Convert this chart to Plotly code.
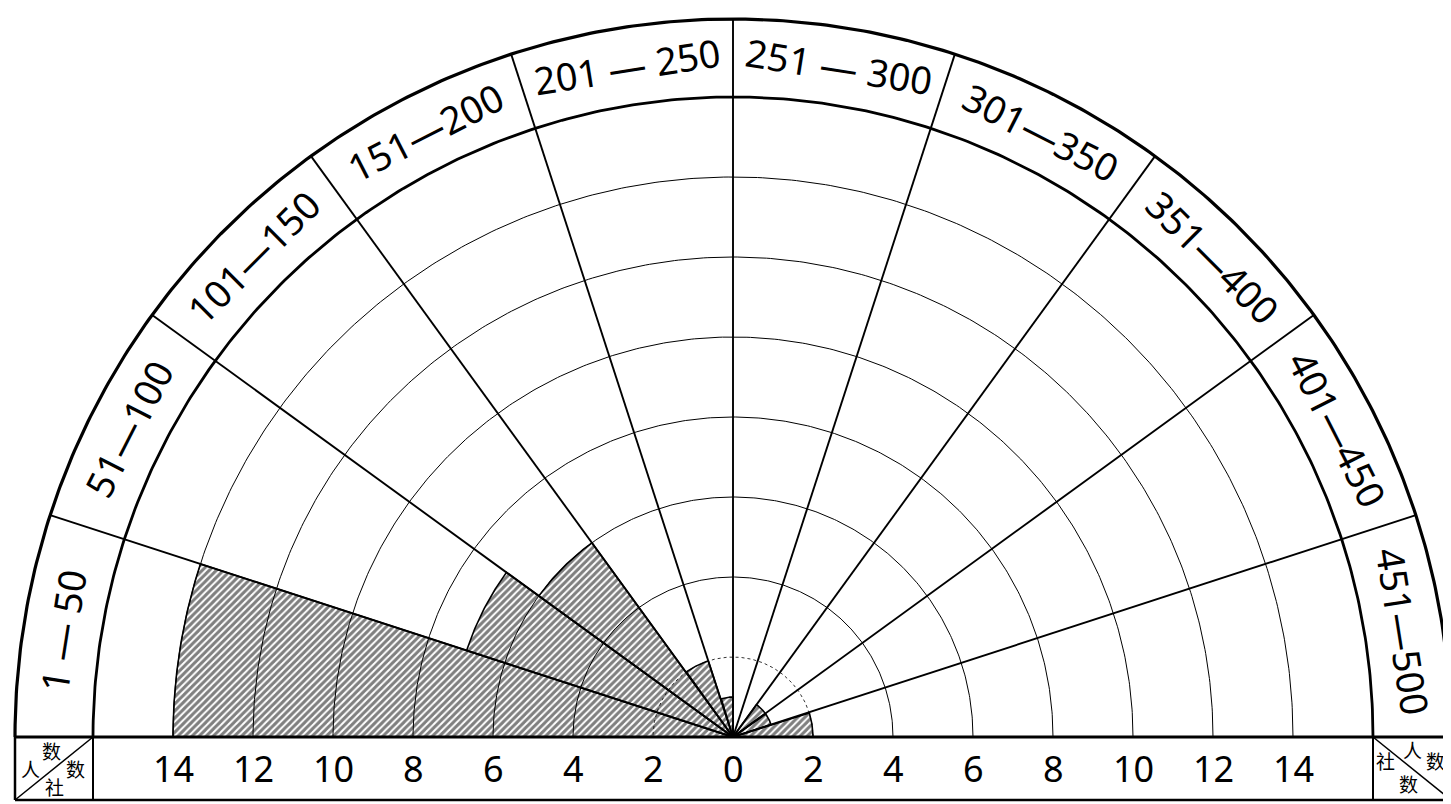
import numpy as np
import plotly.graph_objects as go

# employee-size classes (angular sectors, left to right) and number of companies
size_classes = ["1 — 50", "51—100", "101—150", "151—200", "201 — 250",
                "251 — 300", "301—350", "351—400", "401—450", "451—500"]
companies = [14, 7, 6, 2, 1, 0, 0, 1, 1, 2]

# radial scale labels along the bottom strip
tick_values = [-14, -12, -10, -8, -6, -4, -2, 0, 2, 4, 6, 8, 10, 12, 14]
tick_text = ["14", "12", "10", "8", "6", "4", "2", "0", "2", "4", "6", "8", "10", "12", "14"]
grid_radii = [2, 4, 6, 8, 10, 12, 14]

R_IN = 16.0     # inner edge of the label band
R_OUT = 17.95   # outer edge of the half circle
STRIP = -1.575  # bottom of the scale strip
n = len(size_classes)
step = 180.0 / n

# page body has an 8px margin, so the figure is a bit smaller than the window
W, H = 1443, 796
CX, CY, UNIT = 725, 729, 40.0   # centre of the half circle in figure pixels

fig = go.Figure()

# hatched sectors
for i, v in enumerate(companies):
    if v <= 0:
        continue
    a0 = 180 - step * i
    a1 = a0 - step
    t = np.radians(np.linspace(a0, a1, 40))
    xs = np.concatenate([[0], v * np.cos(t), [0]])
    ys = np.concatenate([[0], v * np.sin(t), [0]])
    fig.add_trace(go.Scatter(
        x=xs, y=ys, mode="lines", fill="toself",
        fillcolor="white",
        fillpattern=dict(shape="/", fgcolor="black", bgcolor="white",
                         size=5, solidity=0.6),
        line=dict(color="black", width=1.6),
        hoverinfo="skip"
    ))


def arc(r, width, dash="solid"):
    t = np.radians(np.linspace(0, 180, 361))
    fig.add_trace(go.Scatter(x=r * np.cos(t), y=r * np.sin(t), mode="lines",
                             line=dict(color="black", width=width, dash=dash),
                             hoverinfo="skip"))


# grid arcs
for r in grid_radii:
    arc(r, 1.0 if r > 2 else 0.8, "solid" if r > 2 else "dot")
arc(R_IN, 2.8)
arc(R_OUT, 3.2)

# sector lines
lx, ly = [], []
for k in range(1, n):
    a = np.radians(180 - step * k)
    lx += [0, R_OUT * np.cos(a), None]
    ly += [0, R_OUT * np.sin(a), None]
fig.add_trace(go.Scatter(x=lx, y=ly, mode="lines",
                         line=dict(color="black", width=1.9), hoverinfo="skip"))

# baseline and scale strip
shapes = [
    dict(type="line", x0=-R_OUT, x1=R_OUT, y0=0, y1=0, line=dict(color="black", width=3)),
    dict(type="line", x0=-R_OUT, x1=R_OUT, y0=STRIP, y1=STRIP, line=dict(color="black", width=2.5)),
    dict(type="line", x0=-R_OUT, x1=-R_OUT, y0=0, y1=STRIP, line=dict(color="black", width=2.5)),
    dict(type="line", x0=R_OUT - 0.05, x1=R_OUT - 0.05, y0=0, y1=STRIP, line=dict(color="black", width=2.5)),
    dict(type="line", x0=-R_IN, x1=-R_IN, y0=0, y1=STRIP, line=dict(color="black", width=2)),
    dict(type="line", x0=R_IN, x1=R_IN, y0=0, y1=STRIP, line=dict(color="black", width=2)),
    dict(type="line", x0=-R_OUT, x1=-R_IN, y0=STRIP, y1=0, line=dict(color="black", width=1.5)),
    dict(type="line", x0=R_IN, x1=R_OUT, y0=0, y1=STRIP, line=dict(color="black", width=1.5)),
]

annotations = []
# sector labels in the outer band, written along the arc
r_lab = (R_IN + R_OUT) / 2
for i, lab in enumerate(size_classes):
    a = 180 - step * (i + 0.5)
    annotations.append(dict(
        x=r_lab * np.cos(np.radians(a)), y=r_lab * np.sin(np.radians(a)),
        text=lab, showarrow=False, textangle=90 - a,
        font=dict(family="Noto Sans", size=38, color="black")
    ))

# scale numbers
for v, t in zip(tick_values, tick_text):
    annotations.append(dict(x=v, y=STRIP / 2, text=t, showarrow=False,
                            font=dict(family="Noto Sans", size=36, color="black")))


# corner boxes: 人数 / 社数
def corner(x0, x1, items):
    for ch, fx, fy in items:
        annotations.append(dict(x=x0 + (x1 - x0) * fx, y=STRIP * fy, text=ch,
                                showarrow=False,
                                font=dict(family="Noto Sans CJK SC", size=19, color="black")))


corner(-R_OUT, -R_IN, [("人", 0.2, 0.5), ("数", 0.47, 0.22), ("数", 0.78, 0.5), ("社", 0.5, 0.78)])
corner(R_IN, R_OUT, [("人", 0.5, 0.2), ("数", 0.8, 0.38), ("社", 0.16, 0.38), ("数", 0.45, 0.74)])

fig.update_layout(
    width=W, height=H,
    margin=dict(l=0, r=0, t=0, b=0),
    paper_bgcolor="white", plot_bgcolor="white",
    showlegend=False,
    xaxis=dict(range=[-CX / UNIT, (W - CX) / UNIT], visible=False, fixedrange=True),
    yaxis=dict(range=[-(H - CY) / UNIT, CY / UNIT], visible=False, fixedrange=True),
    shapes=shapes,
    annotations=annotations,
)

fig.write_html("out.html")
